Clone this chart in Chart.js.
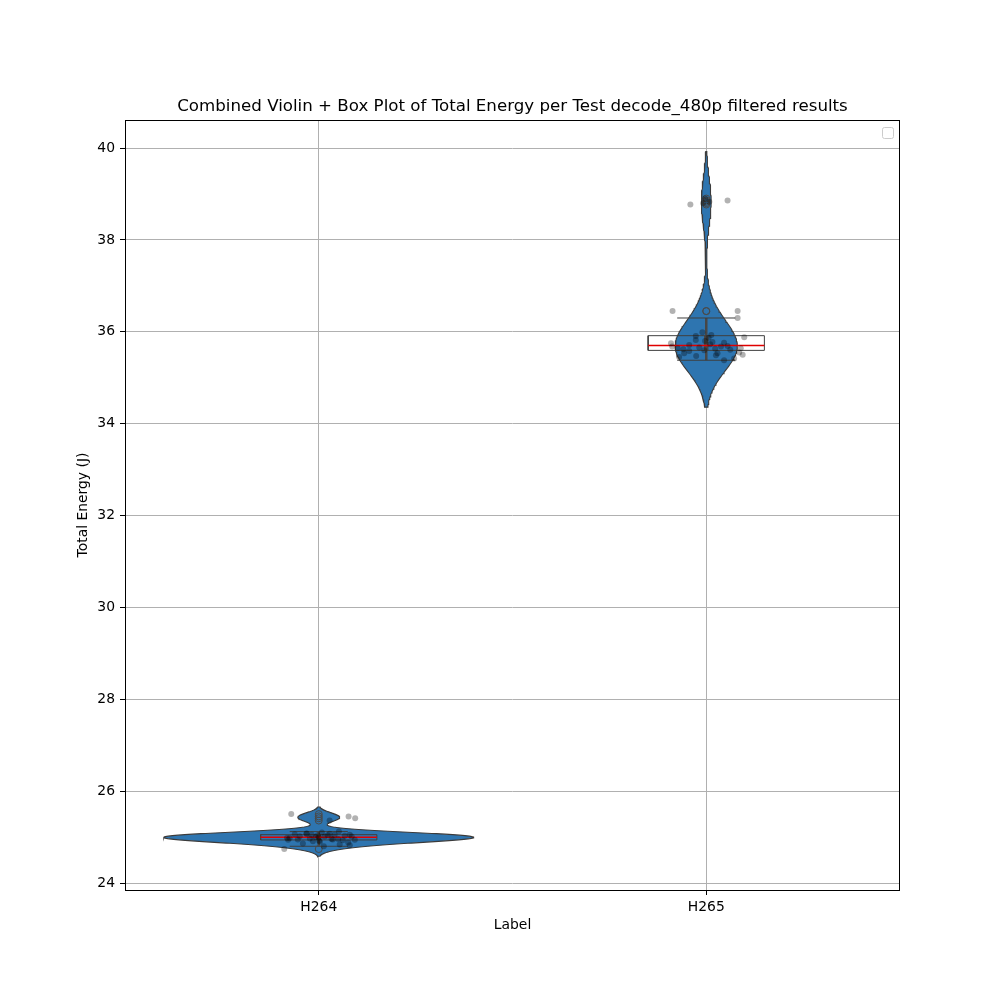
<!DOCTYPE html>
<html>
<head>
<meta charset="utf-8">
<script src="https://cdn.jsdelivr.net/npm/chart.js@4.4.1/dist/chart.umd.min.js"></script>
<style>
  html, body { margin: 0; padding: 0; background: #fff; }
  canvas { display: block; }
</style>
</head>
<body>
<canvas id="myChart" width="1000" height="1000"></canvas>
<script>
// data
const categories = ['H264', 'H265'];

const h264Energy = [
    25.50, 25.45, 25.41, 25.36, 25.12, 25.10, 25.08, 25.07, 25.07, 25.06,
    25.05, 25.05, 25.05, 25.04, 25.04, 25.03, 25.02, 25.01, 25.01, 25.00,
    24.99, 24.98, 24.98, 24.97, 24.96, 24.96, 24.95, 24.95, 24.94, 24.94,
    24.93, 24.92, 24.91, 24.90, 24.88, 24.86, 24.84, 24.82, 24.80, 24.74
];
const h265Energy = [
    38.90, 38.86, 38.83, 38.80, 38.77, 36.45, 36.45, 36.30, 35.99, 35.93,
    35.91, 35.88, 35.87, 35.82, 35.80, 35.78, 35.76, 35.75, 35.73, 35.71,
    35.69, 35.68, 35.68, 35.66, 35.64, 35.64, 35.63, 35.62, 35.61, 35.60,
    35.58, 35.55, 35.53, 35.53, 35.50, 35.49, 35.47, 35.45, 35.42, 35.38
];

// strip plot jitter (category units)
const h264Jitter = [
    -0.071, 0.077, 0.094, 0.028, 0.052, 0.008, -0.031, 0.028, -0.032, -0.062,
    -0.018, 0.080, 0.041, 0.023, -0.003, 0.067, -0.049, 0.085, 0.015, -0.008,
    0.000, -0.082, -0.075, -0.023, 0.033, 0.050, 0.036, -0.054, -0.079, 0.093,
    0.062, 0.001, -0.015, 0.003, 0.076, -0.041, 0.054, 0.080, 0.013, -0.089
];
const h265Jitter = [
    -0.003, 0.055, 0.008, -0.008, -0.041, -0.087, 0.081, 0.081, -0.010, 0.013,
    -0.027, 0.098, 0.006, -0.027, -0.003, 0.016, 0.046, -0.091, 0.010, -0.044,
    0.055, 0.038, -0.088, -0.018, -0.074, 0.089, 0.023, -0.059, 0.062, -0.005,
    -0.044, 0.085, -0.057, 0.029, 0.094, 0.025, -0.026, -0.070, 0.072, 0.046
];

const yTicks = [24, 26, 28, 30, 32, 34, 36, 38, 40];

const groups = [h264Energy, h265Energy];
const jitters = [h264Jitter, h265Jitter];

function quantile(sorted, p) {
    const idx = (sorted.length - 1) * p;
    const lo = Math.floor(idx), hi = Math.ceil(idx);
    return sorted[lo] + (sorted[hi] - sorted[lo]) * (idx - lo);
}

function boxStats(values) {
    const s = values.slice().sort((a, b) => a - b);
    const q1 = quantile(s, 0.25), med = quantile(s, 0.5), q3 = quantile(s, 0.75);
    const iqr = q3 - q1;
    const inside = s.filter(v => v >= q1 - 1.5 * iqr && v <= q3 + 1.5 * iqr);
    return {
        q1, med, q3,
        lo: inside[0],
        hi: inside[inside.length - 1],
        fliers: s.filter(v => v < q1 - 1.5 * iqr || v > q3 + 1.5 * iqr)
    };
}

// gaussian kde, scott bandwidth, cut = 2
function kde(values) {
    const n = values.length;
    const mean = values.reduce((a, b) => a + b, 0) / n;
    const sd = Math.sqrt(values.reduce((a, b) => a + (b - mean) ** 2, 0) / (n - 1));
    const bw = sd * Math.pow(n, -0.2);
    const lo = Math.min(...values) - 2 * bw;
    const hi = Math.max(...values) + 2 * bw;
    const ys = [], ds = [];
    for (let i = 0; i < 200; i++) {
        const y = lo + (hi - lo) * i / 199;
        let s = 0;
        for (const v of values) s += Math.exp(-0.5 * ((y - v) / bw) ** 2);
        ys.push(y);
        ds.push(s / (n * bw * Math.sqrt(2 * Math.PI)));
    }
    return { ys, ds };
}

const kdes = groups.map(kde);
const maxDensity = Math.max(...kdes.map(k => Math.max(...k.ds)));
const stats = groups.map(boxStats);

const datasets = [];

// strip points
groups.forEach((vals, i) => {
    datasets.push({
        data: vals.map((v, j) => ({ x: i + jitters[i][j], y: v })),
        pointRadius: 3,
        pointBackgroundColor: 'rgba(0,0,0,0.3)',
        pointBorderWidth: 0,
        order: 0
    });
});

stats.forEach((st, i) => {
    // fliers
    datasets.push({
        data: st.fliers.map(v => ({ x: i, y: v })),
        pointRadius: 3.5,
        pointBackgroundColor: 'rgba(0,0,0,0)',
        pointBorderColor: '#4a4a4a',
        pointBorderWidth: 1,
        order: 1
    });
    // median
    datasets.push({
        data: [{ x: i - 0.15, y: st.med }, { x: i + 0.15, y: st.med }],
        showLine: true, pointRadius: 0,
        borderColor: '#e00000', borderWidth: 1.5,
        order: 2
    });
    // box, caps
    datasets.push({
        data: [
            { x: i - 0.15, y: st.q1 }, { x: i + 0.15, y: st.q1 }, { x: i + 0.15, y: st.q3 },
            { x: i - 0.15, y: st.q3 }, { x: i - 0.15, y: st.q1 }, { x: i, y: null },
            { x: i - 0.075, y: st.hi }, { x: i + 0.075, y: st.hi }, { x: i, y: null },
            { x: i - 0.075, y: st.lo }, { x: i + 0.075, y: st.lo }
        ],
        showLine: true, pointRadius: 0, spanGaps: false,
        borderColor: '#3f3f3f', borderWidth: 1,
        order: 3
    });
    // whiskers / violin inner box
    datasets.push({
        data: [{ x: i, y: st.lo }, { x: i, y: st.hi }],
        showLine: true, pointRadius: 0,
        borderColor: '#474747', borderWidth: 2.5,
        order: 4
    });
    datasets.push({
        data: [{ x: i, y: st.q1 }, { x: i, y: st.q3 }],
        showLine: true, pointRadius: 0,
        borderColor: '#474747', borderWidth: 4.5,
        order: 4
    });
});

// violins
kdes.forEach((k, i) => {
    const right = k.ys.map((y, j) => ({ x: i + 0.4 * k.ds[j] / maxDensity, y }));
    const left = k.ys.map((y, j) => ({ x: i - 0.4 * k.ds[j] / maxDensity, y })).reverse();
    datasets.push({
        data: right.concat(left, [right[0]]),
        showLine: true, pointRadius: 0, tension: 0,
        fill: 'shape',
        backgroundColor: '#2e75b0',
        borderColor: '#3b3b3b', borderWidth: 1.1,
        order: 5
    });
});

const frameAndLegend = {
    id: 'frameAndLegend',
    afterDraw(chart) {
        const { ctx, chartArea: a } = chart;
        ctx.save();
        ctx.strokeStyle = '#000';
        ctx.lineWidth = 1;
        ctx.strokeRect(a.left + 0.5, a.top + 0.5, a.right - a.left - 1, a.bottom - a.top);
        // empty legend frame
        ctx.strokeStyle = '#cccccc';
        ctx.fillStyle = 'rgba(255,255,255,0.8)';
        ctx.beginPath();
        ctx.roundRect(a.right - 17.5, a.top + 7.5, 11, 11, 2);
        ctx.fill();
        ctx.stroke();
        ctx.restore();
    }
};

const tickFont = { family: 'DejaVu Sans', size: 13.9 };

const ctx = document.getElementById('myChart').getContext('2d');
const myChart = new Chart(ctx, {
    type: 'scatter',
    data: { datasets },
    plugins: [frameAndLegend],
    options: {
        responsive: false,
        animation: false,
        devicePixelRatio: 1,
        layout: { padding: { top: 97, right: 100, bottom: 0, left: 0 } },
        plugins: {
            legend: { display: false },
            tooltip: { enabled: false },
            title: {
                display: true,
                fullSize: false,
                text: 'Combined Violin + Box Plot of Total Energy per Test decode_480p filtered results',
                color: '#000',
                font: { family: 'DejaVu Sans', size: 16.67, weight: 'normal' },
                padding: { top: 0, bottom: 3 }
            }
        },
        scales: {
            x: {
                type: 'linear',
                min: -0.5,
                max: 1.5,
                z: 1,
                afterBuildTicks: s => { s.ticks = categories.map((c, i) => ({ value: i })); },
                afterFit: s => { s.height = 110; },
                ticks: {
                    color: '#000', font: tickFont, padding: 4,
                    callback: v => categories[v]
                },
                grid: { color: '#b0b0b0', lineWidth: 1, tickColor: '#000', tickLength: 5 },
                border: { display: false },
                title: {
                    display: true, text: 'Label', color: '#000', font: tickFont,
                    padding: { top: 4, bottom: 66 }
                }
            },
            y: {
                type: 'linear',
                min: 23.848,
                max: 40.61,
                z: 1,
                afterBuildTicks: s => { s.ticks = yTicks.map(v => ({ value: v })); },
                afterFit: s => { s.width = 125; },
                ticks: { color: '#000', font: tickFont, padding: 5 },
                grid: { color: '#b0b0b0', lineWidth: 1, tickColor: '#000', tickLength: 5 },
                border: { display: false },
                title: {
                    display: true, text: 'Total Energy (J)', color: '#000', font: tickFont,
                    padding: { top: 75, bottom: 4 }
                }
            }
        }
    }
});
</script>
</body>
</html>
